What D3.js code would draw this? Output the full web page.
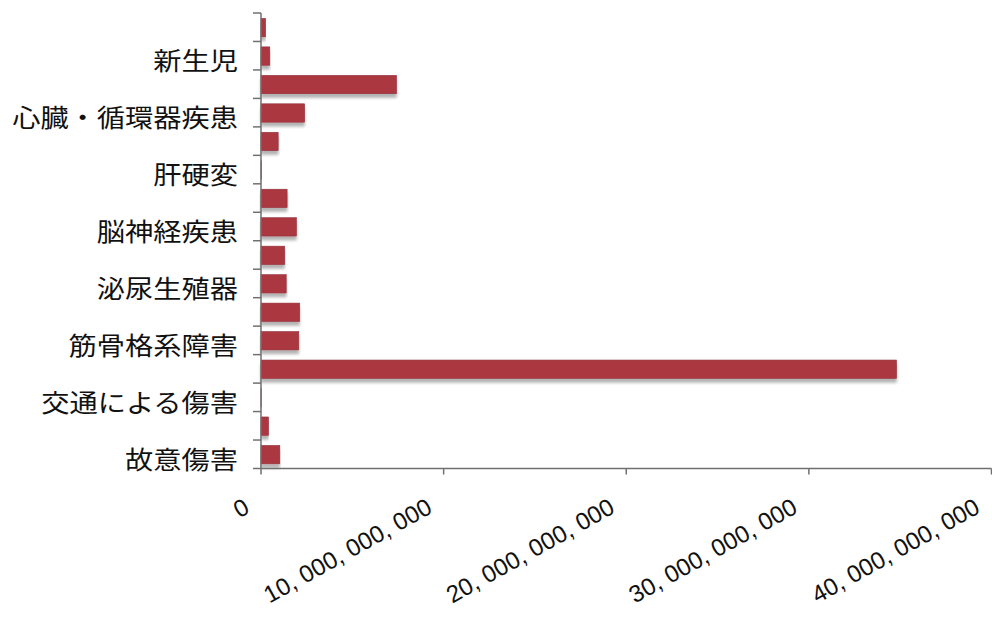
<!DOCTYPE html>
<html>
<head>
<meta charset="utf-8">
<script src="https://cdn.jsdelivr.net/npm/d3@7/dist/d3.min.js"></script>
<style>
  html, body { margin: 0; padding: 0; background: #ffffff; }
  svg { display: block; }
</style>
</head>
<body>
<svg id="chart" width="992" height="619"></svg>
<script>
// Categories, listed from top to bottom as drawn
const categories = [
  "母体疾患", "新生児", "がん", "心臓・循環器疾患",
  "慢性呼吸器疾患", "肝硬変", "消化器疾患", "脳神経疾患",
  "精神・行動障害", "泌尿生殖器", "糖尿病・内分泌", "筋骨格系障害",
  "その他の非感染性疾患", "交通による傷害", "不慮の傷害", "故意傷害"
];
// Cost per category
const values = [
  250000000, 480000000, 7420000000, 2390000000,
  940000000, 20000000, 1430000000, 1940000000,
  1300000000, 1380000000, 2120000000, 2070000000,
  34800000000, 10000000, 410000000, 1030000000
];
// Category labels shown on the axis (every other one)
const shownLabels = [
  "新生児", "心臓・循環器疾患", "肝硬変", "脳神経疾患",
  "泌尿生殖器", "筋骨格系障害", "交通による傷害", "故意傷害"
];
// Value axis ticks
const xTicks = [0, 10000000000, 20000000000, 30000000000, 40000000000];

const svg = d3.select("#chart");
const axisColor = "#707070";
const barColor = "#ab3741";

const plotLeft = 261, plotRight = 991.5, plotTop = 13, plotBottom = 468.5;

const x = d3.scaleLinear().domain([0, 40000000000]).range([plotLeft, plotRight]);
const y = d3.scaleBand().domain(categories).range([plotTop, plotBottom]).padding(0);
const bw = y.bandwidth();

// soft drop shadow under each bar
const defs = svg.append("defs");
const f = defs.append("filter").attr("id", "shadow")
  .attr("x", "-5%").attr("y", "-30%").attr("width", "110%").attr("height", "180%");
f.append("feGaussianBlur").attr("in", "SourceAlpha").attr("stdDeviation", 1.8).attr("result", "b");
f.append("feOffset").attr("in", "b").attr("dx", 0).attr("dy", 3.5).attr("result", "o");
f.append("feComponentTransfer").attr("in", "o").attr("result", "s")
  .append("feFuncA").attr("type", "linear").attr("slope", 0.3);
const m = f.append("feMerge");
m.append("feMergeNode").attr("in", "s");
m.append("feMergeNode").attr("in", "SourceGraphic");

// bars
svg.append("g").selectAll("rect")
  .data(categories.map((c, i) => ({ c, v: values[i] })))
  .join("rect")
  .attr("x", x(0))
  .attr("y", d => y(d.c) + bw * 0.19)
  .attr("width", d => x(d.v) - x(0))
  .attr("height", bw * 0.645)
  .attr("fill", barColor)
  .attr("stroke", "#93303a")
  .attr("stroke-width", 0.6)
  .attr("filter", "url(#shadow)");

// category axis with ticks on band boundaries
const yAxisG = svg.append("g");
yAxisG.append("line")
  .attr("x1", plotLeft).attr("x2", plotLeft).attr("y1", plotTop).attr("y2", plotBottom)
  .attr("stroke", axisColor).attr("stroke-width", 1.5);
const bounds = categories.map(c => y(c)).concat([plotBottom]);
yAxisG.selectAll("line.tick").data(bounds).join("line")
  .attr("class", "tick")
  .attr("x1", plotLeft - 8).attr("x2", plotLeft)
  .attr("y1", d => d).attr("y2", d => d)
  .attr("stroke", axisColor).attr("stroke-width", 1.5);

yAxisG.selectAll("text").data(shownLabels).join("text")
  .attr("transform", d => `translate(238,${y(d) + bw / 2 + 4}) scale(1.13,1)`)
  .attr("text-anchor", "end")
  .attr("dominant-baseline", "central")
  .attr("font-family", "'Noto Sans CJK JP', sans-serif")
  .attr("font-size", 25)
  .attr("fill", "#111")
  .text(d => d);

// value axis
const xAxisG = svg.append("g");
xAxisG.append("line")
  .attr("x1", plotLeft).attr("x2", plotRight).attr("y1", plotBottom).attr("y2", plotBottom)
  .attr("stroke", axisColor).attr("stroke-width", 1.5);
xAxisG.selectAll("line.tick").data(xTicks).join("line")
  .attr("class", "tick")
  .attr("x1", d => x(d)).attr("x2", d => x(d))
  .attr("y1", plotBottom).attr("y2", plotBottom + 6)
  .attr("stroke", axisColor).attr("stroke-width", 1.5);

const fmt = v => d3.format(",")(v).replace(/,/g, ", ");
xAxisG.selectAll("text").data(xTicks).join("text")
  .attr("transform", d => `translate(${x(d) - 10},512) rotate(-29.2)`)
  .attr("text-anchor", "end")
  .attr("font-family", "'Liberation Sans', Arial, sans-serif")
  .attr("font-size", 24)
  .attr("fill", "#111")
  .each(function (d) {
    const s = fmt(d);
    const t = d3.select(this).text(s);
    if (s.length > 1) t.attr("textLength", 188).attr("lengthAdjust", "spacing");
  });
</script>
</body>
</html>
